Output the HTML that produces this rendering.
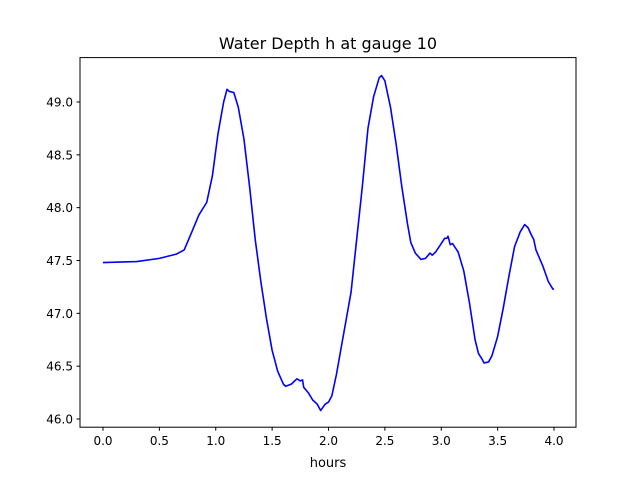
<!DOCTYPE html>
<html><head><meta charset="utf-8"><style>
body{margin:0;background:#fff;font-family:"Liberation Sans","DejaVu Sans",sans-serif;}
svg text{font-family:"DejaVu Sans","Liberation Sans",sans-serif;}
</style></head><body>
<svg id="chart" width="640" height="480">
<rect width="640" height="480" fill="#fff"/>
<text x="328" y="49" text-anchor="middle" font-size="16">Water Depth h at gauge 10</text>
<g id="plot"></g>
<rect x="80" y="57.6" width="496" height="369.6" fill="none" stroke="#000" stroke-width="1"/>
<text x="328" y="467" text-anchor="middle" font-size="13">hours</text>
</svg>
<script>
const xTicks=[0,0.5,1,1.5,2,2.5,3,3.5,4];
const xTickLabels=["0.0","0.5","1.0","1.5","2.0","2.5","3.0","3.5","4.0"];
const yTicks=[46,46.5,47,47.5,48,48.5,49];
const yTickLabels=["46.0","46.5","47.0","47.5","48.0","48.5","49.0"];
const hours=[0,0.3,0.5,0.65,0.72,0.78,0.85,0.92,0.97,1.02,1.07,1.1,1.12,1.16,1.2,1.25,1.3,1.35,1.4,1.45,1.5,1.55,1.6,1.62,1.67,1.72,1.75,1.77,1.78,1.82,1.86,1.9,1.93,1.97,2.0,2.03,2.07,2.1,2.15,2.2,2.25,2.3,2.35,2.4,2.45,2.47,2.5,2.55,2.6,2.65,2.7,2.73,2.77,2.82,2.86,2.9,2.92,2.95,3.0,3.03,3.05,3.06,3.08,3.1,3.15,3.2,3.25,3.3,3.33,3.36,3.38,3.42,3.45,3.5,3.55,3.6,3.65,3.7,3.74,3.77,3.8,3.82,3.84,3.9,3.95,3.99,4.0];
const depth=[47.48,47.49,47.52,47.56,47.6,47.75,47.93,48.05,48.3,48.7,49.0,49.12,49.1,49.09,48.95,48.65,48.2,47.7,47.3,46.95,46.65,46.45,46.33,46.31,46.33,46.38,46.36,46.37,46.3,46.25,46.18,46.14,46.08,46.14,46.16,46.22,46.42,46.6,46.9,47.2,47.7,48.2,48.75,49.05,49.23,49.25,49.2,48.95,48.6,48.2,47.85,47.67,47.57,47.51,47.52,47.57,47.55,47.58,47.66,47.71,47.71,47.73,47.65,47.66,47.58,47.4,47.1,46.75,46.62,46.57,46.53,46.54,46.6,46.78,47.05,47.35,47.63,47.77,47.84,47.81,47.74,47.7,47.6,47.45,47.3,47.23,47.23];
const NS="http://www.w3.org/2000/svg";
const xs=v=>103+v*112.75;
const ys=v=>419-(v-46)*105.67;
const g=document.getElementById('plot');
xTicks.forEach((t,i)=>{
  const l=document.createElementNS(NS,'line');
  
  
  l.setAttribute('x1',xs(t));l.setAttribute('x2',xs(t));l.setAttribute('y1',427.2);l.setAttribute('y2',430.7);l.setAttribute('stroke','#000');
  g.appendChild(l);
  const tx=document.createElementNS(NS,'text');
  
  
  tx.setAttribute('x',xs(t));tx.setAttribute('y',445);tx.setAttribute('text-anchor','middle');tx.setAttribute('font-size','12');
  tx.textContent=xTickLabels[i];g.appendChild(tx);
});
yTicks.forEach((t,i)=>{
  const l=document.createElementNS(NS,'line');
  
  
  l.setAttribute('x1',76.5);l.setAttribute('x2',80);l.setAttribute('y1',ys(t));l.setAttribute('y2',ys(t));l.setAttribute('stroke','#000');
  g.appendChild(l);
  const tx=document.createElementNS(NS,'text');
  
  
  tx.setAttribute('x',73);tx.setAttribute('y',ys(t)+4.5);tx.setAttribute('text-anchor','end');tx.setAttribute('font-size','12');
  tx.textContent=yTickLabels[i];g.appendChild(tx);
});
const p=document.createElementNS(NS,'polyline');


p.setAttribute('points',hours.map((h,i)=>xs(h)+','+ys(depth[i])).join(' '));
p.setAttribute('fill','none');p.setAttribute('stroke','#0000ff');p.setAttribute('stroke-width','1.6');p.setAttribute('stroke-linejoin','round');
g.appendChild(p);
</script>
</body></html>
